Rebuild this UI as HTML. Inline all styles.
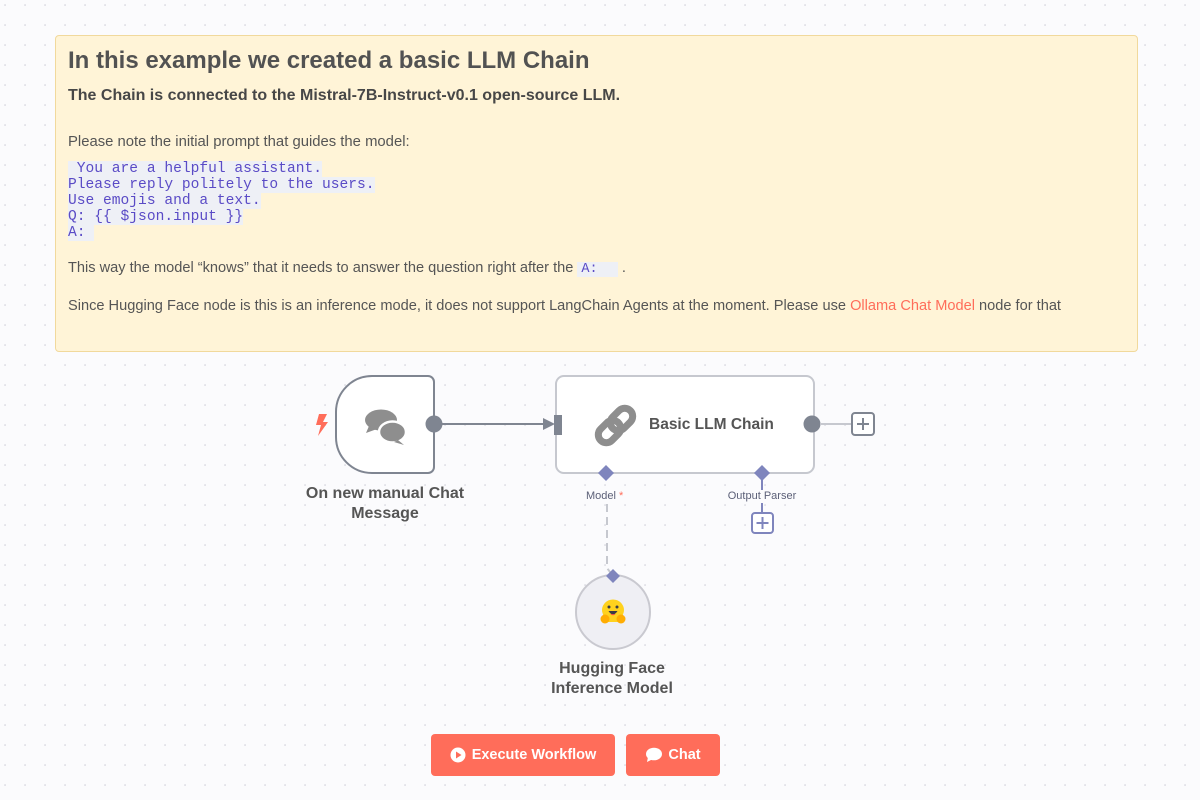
<!DOCTYPE html>
<html><head><meta charset="utf-8">
<style>
html,body{margin:0;padding:0;}
body{width:1200px;height:800px;position:relative;overflow:hidden;background:#fbfbfd;font-family:"Liberation Sans",Arial,sans-serif;}
#bg{position:absolute;left:0;top:0;}
.sticky{position:absolute;left:55px;top:35px;width:1083px;height:317px;background:#fff4d7;border:1px solid #f1d99c;border-radius:4px;box-sizing:border-box;}
.t{position:absolute;color:#555;white-space:nowrap;}
.h1{left:68px;top:47px;font-size:24px;font-weight:bold;color:#525252;}
.h2{left:68px;top:87px;font-size:16px;font-weight:bold;color:#474747;}
.p{font-size:14.85px;color:#555;}
.code{position:absolute;left:68px;top:161px;font-family:"Liberation Mono",monospace;font-size:14.6px;line-height:16px;color:#5a4bc6;}
.code div{background:#eef0f6;width:fit-content;white-space:pre;}
.inl{font-family:"Liberation Mono",monospace;background:#eef0f6;color:#5a4bc6;padding:0 4px;font-size:13.5px;white-space:pre;}
.lbl{position:absolute;font-size:16px;font-weight:bold;color:#555;text-align:center;line-height:20px;}
.btn{position:absolute;top:734px;height:42px;background:#ff6d5a;border-radius:4px;color:#fff;font-weight:bold;font-size:14.5px;display:flex;align-items:center;justify-content:center;}
</style></head><body>
<svg id="bg" width="1200" height="800">
<defs><pattern id="dots" x="0" y="0" width="20" height="20" patternUnits="userSpaceOnUse"><rect x="4.3" y="4.3" width="1.5" height="1.5" fill="#d6d6de"/></pattern></defs>
<rect width="1200" height="800" fill="url(#dots)"/>
</svg>
<div class="sticky"></div>
<div class="t h1">In this example we created a basic LLM Chain</div>
<div class="t h2">The Chain is connected to the Mistral-7B-Instruct-v0.1 open-source LLM.</div>
<div class="t p" style="left:68px;top:134px;">Please note the initial prompt that guides the model:</div>
<div class="code"><div> You are a helpful assistant.</div><div>Please reply politely to the users.</div><div>Use emojis and a text.</div><div>Q: {{ $json.input }}</div><div>A: </div></div>
<div class="t p" style="left:68px;top:260px;font-size:14.6px;">This way the model “knows” that it needs to answer the question right after the <span class="inl">A:  </span> .</div>
<div class="t p" style="left:68px;top:298px;font-size:14.6px;">Since Hugging Face node is this is an inference mode, it does not support LangChain Agents at the moment. Please use <span style="color:#ff6d5a">Ollama Chat Model</span> node for that</div>

<svg style="position:absolute;left:0;top:0" width="1200" height="800">
<!-- trigger node -->
<path d="M372,376 H428 a6,6 0 0 1 6,6 V467 a6,6 0 0 1 -6,6 H372 a36,36 0 0 1 -36,-36 V412 a36,36 0 0 1 36,-36 Z" fill="#fff" stroke="#7f8591" stroke-width="2"/>
<!-- lightning -->
<polygon points="319,414 327,414 323,422 328,422 318,436 321,425 316,425" fill="#ff6d5a"/>
<!-- chat icon -->
<g fill="#8e8e8e">
<ellipse cx="381" cy="420" rx="16" ry="10.5"/>
<polygon points="369,426 366,433 377,429"/>
<ellipse cx="392.5" cy="432" rx="13.5" ry="10.5" stroke="#fff" stroke-width="2.5"/>
<polygon points="398,440 404,445 394,442"/>
</g>
<!-- LLM chain node -->
<rect x="556" y="376" width="258" height="97" rx="8" fill="#fff" stroke="#c6c8cf" stroke-width="2"/>
<!-- connection -->
<circle cx="434" cy="424" r="8.5" fill="#7f8591"/>
<line x1="440" y1="424" x2="546" y2="424" stroke="#7f8591" stroke-width="2"/>
<polygon points="543,418 555,424 543,430" fill="#7f8591"/>
<rect x="554" y="415" width="8" height="20" fill="#7f8591"/>
<!-- link icon -->
<g transform="translate(615.5,425.5) rotate(-45)" fill="none" stroke="#8e8e8e" stroke-width="7">
<rect x="-21" y="-8" width="25" height="16" rx="8"/>
<rect x="-4" y="-8" width="25" height="16" rx="8"/>
</g>
<circle cx="812" cy="424" r="8.5" fill="#7f8591"/>
<line x1="820" y1="424" x2="852" y2="424" stroke="#c6c8cf" stroke-width="2"/>
<rect x="852" y="413" width="22" height="22" rx="3" fill="#fff" stroke="#7f8591" stroke-width="2"/>
<path d="M863,418 V430 M857,424 H869" stroke="#7f8591" stroke-width="2"/>
<!-- diamonds -->
<path d="M607,504 V568 L613,576" stroke="#c6c8cf" stroke-width="2" fill="none" stroke-dasharray="8,5"/>
<line x1="762" y1="480" x2="762" y2="490" stroke="#7f85bd" stroke-width="2"/>
<line x1="762" y1="503" x2="762" y2="513" stroke="#7f85bd" stroke-width="2"/>
<rect x="752" y="513" width="21" height="20" rx="3" fill="#fff" stroke="#7f85bd" stroke-width="2"/>
<path d="M762.5,517 V529 M756.5,523 H768.5" stroke="#7f85bd" stroke-width="2"/>
<polygon points="606,465 614,473 606,481 598,473" fill="#7f85bd"/>
<polygon points="762,465 770,473 762,481 754,473" fill="#7f85bd"/>
<text x="586" y="499" font-family="Liberation Sans,Arial,sans-serif" font-size="11" fill="#5c6078">Model <tspan fill="#ff6d5a">*</tspan></text>
<text x="762" y="499" text-anchor="middle" font-family="Liberation Sans,Arial,sans-serif" font-size="11" fill="#5c6078">Output Parser</text>
<!-- HF node -->
<circle cx="613" cy="612" r="37" fill="#efeff4" stroke="#c9c9d0" stroke-width="2"/>
<polygon points="613,569 620,576 613,583 606,576" fill="#7f85bd"/>
<g>
<ellipse cx="613" cy="610" rx="11" ry="10.5" fill="#ffd21e"/>
<rect x="603" y="612" width="20" height="10" rx="4" fill="#ffd21e"/>
<circle cx="609" cy="607" r="1.5" fill="#3a3b45"/>
<circle cx="617" cy="607" r="1.5" fill="#3a3b45"/>
<path d="M608.5,611 Q613,618 617.5,611 Z" fill="#3a3b45"/>
<path d="M610.5,614 Q613,616.5 615.5,614 Z" fill="#f0504a"/>
<ellipse cx="605" cy="619" rx="4.5" ry="4.5" fill="#ffad03"/>
<ellipse cx="621" cy="619" rx="4.5" ry="4.5" fill="#ffad03"/>
</g>
</svg>
<div class="t" style="left:649px;top:416px;font-size:15.5px;font-weight:bold;color:#555;">Basic LLM Chain</div>
<div class="lbl" style="left:285px;top:484px;width:200px;">On new manual Chat<br>Message</div>
<div class="lbl" style="left:512px;top:659px;width:200px;">Hugging Face<br>Inference Model</div>

<div class="btn" style="left:431px;width:184px;">
<svg width="16" height="16" style="margin-right:6px"><circle cx="8" cy="8" r="7.5" fill="#fff"/><polygon points="6,4.5 11.5,8 6,11.5" fill="#ff6d5a"/></svg>Execute Workflow</div>
<div class="btn" style="left:626px;width:94px;">
<svg width="18" height="16" style="margin-right:5px"><ellipse cx="9" cy="7" rx="8" ry="6.3" fill="#fff"/><polygon points="3,10 2,15 8,12" fill="#fff"/></svg>Chat</div>
</body></html>
